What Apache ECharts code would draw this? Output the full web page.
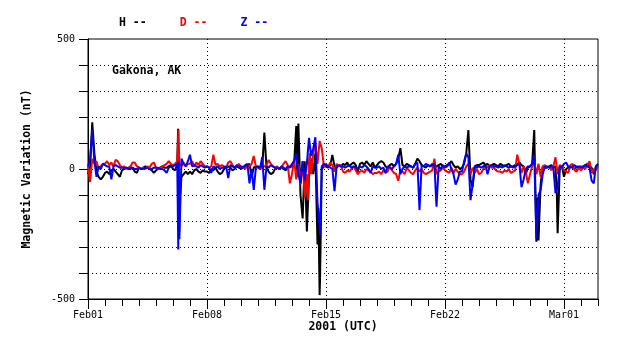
<!DOCTYPE html>
<html>
<head>
<meta charset="utf-8">
<script src="https://cdn.jsdelivr.net/npm/echarts@6/dist/echarts.min.js"></script>
<style>html,body{margin:0;padding:0;background:#fff}#c{width:638px;height:359px}</style>
</head>
<body>
<div id="c"></div>
<script>
// Time in days since 2001-02-01 00:00 UTC; base samples every 3 hours (8 per day), last value at day 30.
const seriesNames = ['H', 'D', 'Z'];
const xTickLabels = ['Feb01', 'Feb08', 'Feb15', 'Feb22', 'Mar01'];
const yLabelValues = [-500, 0, 500];

const hValues = [
  -20, 10, 180, 60, -10, -30, -40, -30,
  -15, -10, -20, -5, 0, -10, -20, -30,
  -5, 0, 5, 0, 0, 5, -10, -15,
  5, 0, 5, 10, 5, 0, -5, -15,
  -5, 0, 5, 10, 5, 5, 10, 15,
  0, -5, 20, -60, -30, -20, -10, -20,
  -10, -20, -5, 0, -10, -15, -5, -10,
  -10, -15, 0, -5, 5, -10, -20, -15,
  0, 5, 10, 5, -5, 0, 10, 5,
  0, 5, 10, 15, 20, -30, 5, 10,
  5, 0, 10, 140, 5, -10, -20, -15,
  0, 5, 0, 5, 0, -5, 5, 10,
  10, 20, 165, 175, -100, -190, 30, -240,
  -30, 40, -20, 60, -290, -485, 0, 10,
  10, 5, 15, 54, 10, 5, 15, 10,
  20, 15, 25, 10, 20, 25, 15, -10,
  20, 25, 15, 30, 20, 10, 25, 5,
  15, 25, 30, 25, 10, 5, 15, 20,
  10, 20, 40, 80, 15, 10, 20, 15,
  10, 5, 20, 40, 30, 15, 10, 5,
  15, 10, 20, 5, 10, 15, 20, 10,
  10, 15, 20, 30, 15, 5, 10, 0,
  5, 20, 60, 150, -40, -70, 10, 15,
  15, 20, 25, 15, 20, 10, 15, 20,
  15, 10, 20, 15, 10, 15, 20, 10,
  10, 15, 20, 25, 15, 10, -20, 5,
  10, 20, 150, -280, -275, -60, 10, 5,
  5, 10, 15, 5, 10, -247, 5, 10,
  -30, 0, 5, 10, 5, 0, 10, 5,
  5, 10, 15, 20, 10, 5, -20, 10,
  20
];
const hSpikes = [[5.30, 155], [5.37, -240], [5.42, -100], [12.31, -30], [13.55, -150], [13.65, -420], [26.44, -110], [26.56, -170], [27.58, -100]];

const dValues = [
  10, -50, 40, 20, 30, 0, 10, 20,
  20, 30, 15, 25, 10, 35, 30, 15,
  5, 10, 0, 5, 10, 25, 25, 10,
  5, 0, 5, 0, 10, 5, 20, 25,
  5, 0, 5, 10, 15, 20, 30, 20,
  15, 20, 30, 20, 10, 25, 10, 20,
  20, 30, 10, 25, 15, 30, 20, 10,
  10, 5, 10, 55, 15, 20, 10, 15,
  10, 5, 25, 30, 15, 5, 10, 20,
  5, 10, 0, 15, 10, 20, 50, 10,
  10, 0, 5, 10, 15, 35, 20, 10,
  5, 10, 0, 5, 20, 30, 15, -55,
  -20, 40, -40, 20, -60, 30, -110, -20,
  30, -20, 60, 100, 20, 108, 80, 10,
  20, 10, 25, 15, -10, 20, 10, 15,
  -10, -15, -5, -10, 0, 10, -5, -20,
  -10, -5, -15, 0, -5, -10, -20, -15,
  -15, -10, -20, -5, -15, -10, 10, -5,
  -15, -20, -45, -5, -10, -20, 5, -5,
  -15, -20, -5, 5, -10, 0, -15, -20,
  -15, -10, -5, 40, -20, -10, -5, 5,
  -5, -10, -15, 5, -15, 0, -10, -20,
  -20, -10, 10, 20, -20, 5, -15, 0,
  -20, -15, 0, 10, 5, 15, 5, 5,
  -5, -10, -10, -15, -5, -10, 0, -15,
  -10, -5, 55, 20, -15, 10, -10, -55,
  -20, 10, 30, -20, 20, -30, 10, 15,
  5, 10, -5, 10, 45, -20, 15, 10,
  -5, -10, -15, 15, 20, -5, -10, 5,
  -5, 5, 0, 15, 30, -15, 0, -5,
  10
];
const dSpikes = [[5.32, 150], [5.36, 60], [12.95, -120], [13.05, 60]];

const zValues = [
  10, 40, 150, 30, -30, 10, 0, 20,
  15, 10, 10, -40, 10, 15, 10, 5,
  5, 5, 5, 0, 5, 5, 0, 0,
  5, 0, 0, 5, 5, 0, 0, 5,
  5, 5, 0, 0, -5, -15, 5, 10,
  10, 15, 20, -270, 40, 20, 10, 30,
  55, 10, 15, 10, 5, 15, 10, 5,
  10, 5, -15, 10, 5, 10, 0, 5,
  5, 10, -35, 15, 10, 5, 15, 10,
  10, 5, 15, 20, -55, 0, -80, 5,
  10, 5, 45, -80, 10, 5, 15, 10,
  5, 5, 0, 10, 5, 0, 10, 5,
  20, 30, 60, -20, -55, 30, -40, 20,
  120, 50, 80, 122, -130, -215, 10, 20,
  15, 10, 5, 0, -85, 10, 15, 10,
  10, 5, 10, 15, 5, 10, 5, 0,
  10, 5, 15, 10, 0, -15, 10, 5,
  5, 10, 0, 5, -15, 10, 5, 0,
  10, 20, 55, -20, 0, 10, 5, 10,
  10, 5, 20, 25, -158, 15, 10, 20,
  15, 10, 15, 20, -145, 10, 0, 15,
  5, 10, 25, 0, -20, -60, -40, -10,
  -10, 30, 60, 45, -120, -60, 10, 5,
  10, 5, 10, 15, -20, 10, 15, 10,
  10, 5, 10, 5, 15, 10, 5, 10,
  5, 10, 15, 20, -70, -40, 0, 10,
  10, 20, 55, -267, -100, -80, -20, 10,
  10, 5, 10, 5, -93, -70, 10, 5,
  20, 25, 10, 5, 10, 15, 5, 10,
  10, 5, 15, 10, 5, -45, -55, 10,
  15
];
const zSpikes = [[5.31, -310], [5.34, 30], [13.66, -255], [13.70, -120]];

function build(values, spikes) {
  const pts = values.map((v, i) => [i / 8, v]).concat(spikes);
  pts.sort((a, b) => a[0] - b[0]);
  return pts;
}

const MONO = "'DejaVu Sans Mono', 'Liberation Mono', monospace";
const colors = ['#000000', '#ff0000', '#0000ff'];
const dotted = { color: '#000', width: 1, type: [1, 3] };
const solid = { color: '#000', width: 1, type: 'solid' };
const hidden = { show: false };

const chart = echarts.init(document.getElementById('c'), null, { renderer: 'canvas' });
chart.setOption({
  backgroundColor: '#ffffff',
  animation: false,
  title: {
    text: 'Gakona, AK', left: 112, top: 65, padding: 0,
    textStyle: { fontFamily: MONO, fontWeight: 'bold', fontSize: 11.5, color: '#000' }
  },
  legend: {
    left: 114, top: 17, padding: 0, icon: 'none', itemWidth: 0, itemHeight: 10, itemGap: 28,
    formatter: n => n + ' --',
    selectedMode: false,
    textStyle: { fontFamily: MONO, fontWeight: 'bold', fontSize: 11.5 },
    data: seriesNames.map((n, i) => ({ name: n, textStyle: { color: colors[i] } }))
  },
  grid: [
    { left: 88, top: 39, width: 510, height: 260, show: true, borderColor: '#000', borderWidth: 1 },
    { left: 88, top: 39, width: 476, height: 260, show: false },
    // tick strips (daily minor ticks, weekly major ticks, y ticks)
    { left: 88, top: 299, width: 510, height: 7, show: false },
    { left: 88, top: 299, width: 476, height: 10, show: false },
    { left: 79, top: 39, width: 9, height: 260, show: false }
  ],
  xAxis: [
    {
      gridIndex: 0, type: 'value', min: 0, max: 30, interval: 1,
      axisLine: { show: true, onZero: false, lineStyle: solid },
      axisTick: { show: false },
      axisLabel: { show: false },
      splitLine: { show: false },
      name: '2001 (UTC)', nameLocation: 'middle', nameGap: 22,
      nameTextStyle: { fontFamily: MONO, fontWeight: 'bold', fontSize: 11.5, color: '#000' }
    },
    {
      gridIndex: 1, type: 'value', min: 0, max: 28, interval: 7,
      axisLine: { show: false },
      axisTick: { show: false },
      axisLabel: {
        show: true, margin: 11, color: '#000', fontFamily: MONO, fontSize: 10,
        formatter: v => xTickLabels[Math.round(v / 7)] || ''
      },
      splitLine: { show: true, showMinLine: false, showMaxLine: true, lineStyle: dotted }
    },
    {
      gridIndex: 2, type: 'value', min: 0, max: 30, interval: 1,
      axisLine: hidden, axisTick: hidden, axisLabel: hidden,
      splitLine: { show: true, showMinLine: true, showMaxLine: true, lineStyle: solid }
    },
    {
      gridIndex: 3, type: 'value', min: 0, max: 28, interval: 7,
      axisLine: hidden, axisTick: hidden, axisLabel: hidden,
      splitLine: { show: true, showMinLine: true, showMaxLine: true, lineStyle: solid }
    },
    { gridIndex: 4, type: 'value', min: 0, max: 1, show: false }
  ],
  yAxis: [
    {
      gridIndex: 0, type: 'value', min: -500, max: 500, interval: 100,
      axisLine: { show: true, onZero: false, lineStyle: solid },
      axisTick: { show: false },
      axisLabel: {
        show: true, margin: 13, color: '#000', fontFamily: MONO, fontSize: 10,
        formatter: v => (yLabelValues.indexOf(v) >= 0 ? String(v) : '')
      },
      splitLine: { show: true, showMinLine: false, showMaxLine: false, lineStyle: dotted },
      name: 'Magnetic Variation (nT)', nameLocation: 'middle', nameGap: 55,
      nameTextStyle: { fontFamily: MONO, fontWeight: 'bold', fontSize: 11.5, color: '#000' }
    },
    { gridIndex: 1, type: 'value', min: -500, max: 500, show: false },
    { gridIndex: 2, type: 'value', min: 0, max: 1, show: false },
    { gridIndex: 3, type: 'value', min: 0, max: 1, show: false },
    {
      gridIndex: 4, type: 'value', min: -500, max: 500, interval: 100,
      axisLine: hidden, axisTick: hidden, axisLabel: hidden,
      splitLine: { show: true, showMinLine: true, showMaxLine: true, lineStyle: solid }
    }
  ],
  series: [
    { name: 'H', type: 'line', xAxisIndex: 0, yAxisIndex: 0, data: build(hValues, hSpikes), showSymbol: false, symbol: 'none', lineStyle: { color: colors[0], width: 2 }, itemStyle: { color: colors[0] }, z: 3 },
    { name: 'D', type: 'line', xAxisIndex: 0, yAxisIndex: 0, data: build(dValues, dSpikes), showSymbol: false, symbol: 'none', lineStyle: { color: colors[1], width: 2 }, itemStyle: { color: colors[1] }, z: 4 },
    { name: 'Z', type: 'line', xAxisIndex: 0, yAxisIndex: 0, data: build(zValues, zSpikes), showSymbol: false, symbol: 'none', lineStyle: { color: colors[2], width: 2 }, itemStyle: { color: colors[2] }, z: 5 }
  ]
});
</script>
</body>
</html>
